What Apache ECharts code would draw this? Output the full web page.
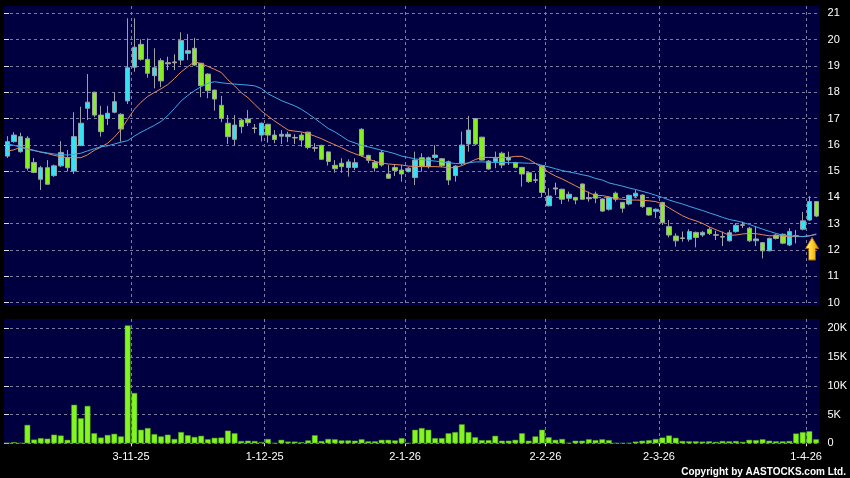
<!DOCTYPE html>
<html>
<head>
<meta charset="utf-8">
<script src="https://cdn.jsdelivr.net/npm/echarts@6/dist/echarts.min.js"></script>
<style>
html,body{margin:0;padding:0;background:#000;}
#chart{width:850px;height:478px;}
</style>
</head>
<body>
<div id="chart"></div>
<script>
// ---- trading days (HK), Oct 3 2025 .. Apr 2 2026 ----
const dates = [
'3-10-25','6-10-25','8-10-25','9-10-25','10-10-25','13-10-25','14-10-25','15-10-25','16-10-25','17-10-25',
'20-10-25','21-10-25','22-10-25','23-10-25','24-10-25','27-10-25','28-10-25','30-10-25','31-10-25',
'3-11-25','4-11-25','5-11-25','6-11-25','7-11-25','10-11-25','11-11-25','12-11-25','13-11-25','14-11-25',
'17-11-25','18-11-25','19-11-25','20-11-25','21-11-25','24-11-25','25-11-25','26-11-25','27-11-25','28-11-25',
'1-12-25','2-12-25','3-12-25','4-12-25','5-12-25','8-12-25','9-12-25','10-12-25','11-12-25','12-12-25',
'15-12-25','16-12-25','17-12-25','18-12-25','19-12-25','22-12-25','23-12-25','24-12-25','29-12-25','30-12-25','31-12-25',
'2-1-26','5-1-26','6-1-26','7-1-26','8-1-26','9-1-26','12-1-26','13-1-26','14-1-26','15-1-26','16-1-26',
'19-1-26','20-1-26','21-1-26','22-1-26','23-1-26','26-1-26','27-1-26','28-1-26','29-1-26','30-1-26',
'2-2-26','3-2-26','4-2-26','5-2-26','6-2-26','9-2-26','10-2-26','11-2-26','12-2-26','13-2-26',
'16-2-26','20-2-26','23-2-26','24-2-26','25-2-26','26-2-26','27-2-26',
'2-3-26','3-3-26','4-3-26','5-3-26','6-3-26','9-3-26','10-3-26','11-3-26','12-3-26','13-3-26',
'16-3-26','17-3-26','18-3-26','19-3-26','20-3-26','23-3-26','24-3-26','25-3-26','26-3-26','27-3-26','30-3-26','31-3-26',
'1-4-26','2-4-26'
];
const tickDates = ['3-11-25','1-12-25','2-1-26','2-2-26','2-3-26','1-4-26'];

const opens = [
15.57,16.12,15.74,16.25,15.33,14.69,15.13,14.83,15.20,15.51,
15.00,15.97,17.39,18.00,17.13,17.00,17.24,17.16,17.67,18.95,
19.82,19.25,18.63,19.20,19.08,19.12,19.22,19.48,19.67,19.10,
18.69,18.08,17.50,16.82,16.21,16.94,16.98,16.62,16.37,16.78,
16.37,16.33,16.31,16.26,16.37,16.48,15.87,15.98,15.73,15.22,
15.30,15.14,15.14,16.59,15.60,15.33,15.71,14.89,15.14,15.04,
14.98,14.76,15.51,15.17,15.52,15.47,15.36,14.83,15.30,16.03,
17.00,16.29,15.38,15.37,15.68,15.42,15.32,15.14,14.94,14.65,
15.20,13.68,14.32,14.31,13.97,14.00,14.51,13.95,14.13,13.94,
13.55,14.16,13.81,13.75,14.05,14.09,13.61,13.47,13.81,12.89,
12.53,12.44,12.41,12.67,12.57,12.79,12.56,12.49,12.35,12.70,
12.94,12.83,12.35,12.28,11.97,12.57,12.60,12.19,12.52,12.79,
13.14,13.84];
const closes = [
16.12,16.37,16.31,15.11,14.95,15.13,14.50,15.20,15.71,15.13,
16.31,16.82,17.62,17.13,16.50,17.20,17.64,16.60,18.93,19.71,
19.25,18.72,18.93,18.43,19.12,19.15,19.97,19.58,19.03,18.25,
18.06,17.74,17.00,16.31,16.75,16.69,16.84,16.64,16.82,16.37,
16.20,16.40,16.40,16.28,16.18,15.90,15.89,15.45,15.37,15.09,
15.17,15.35,15.32,15.60,15.41,15.12,15.23,14.73,15.02,14.89,
15.11,15.42,15.19,15.51,15.61,15.21,14.66,15.19,15.99,16.56,
16.03,15.42,15.08,15.49,15.23,15.52,15.14,14.89,14.60,14.67,
14.19,14.05,14.36,13.93,14.12,13.90,13.93,13.99,13.97,13.48,
14.00,13.93,13.59,14.08,14.16,13.65,13.33,13.55,13.04,12.57,
12.35,12.46,12.70,12.48,12.67,12.63,12.58,12.51,12.66,12.94,
12.96,12.35,12.42,11.97,12.44,12.44,12.26,12.70,12.54,13.11,
13.84,13.29];
const lows = [
15.50,16.08,15.70,15.02,14.92,14.28,14.48,14.78,15.15,14.98,
14.89,15.95,16.94,17.05,16.31,16.75,17.20,16.12,17.55,18.78,
19.20,18.55,18.15,18.19,18.84,18.84,19.03,19.22,19.00,17.81,
17.77,17.30,16.86,16.03,15.97,16.44,16.71,16.44,16.12,16.08,
16.06,16.03,16.10,16.03,15.93,15.83,15.74,15.42,15.21,14.94,
14.94,14.79,15.04,15.55,15.30,14.98,15.17,14.70,14.81,14.60,
14.95,14.47,14.98,15.10,15.45,15.15,14.47,14.60,15.23,15.74,
15.98,15.40,15.05,15.11,15.11,15.23,15.10,14.41,14.55,14.55,
14.00,13.66,14.09,13.75,13.84,13.74,13.90,13.84,13.78,13.45,
13.50,13.84,13.42,13.70,13.97,13.60,13.30,13.22,12.95,12.48,
12.13,12.32,12.32,12.10,12.50,12.57,12.38,12.15,12.32,12.66,
12.83,12.30,12.15,11.68,11.95,12.40,12.22,12.15,12.25,12.75,
13.10,13.25];
const highs = [
16.33,16.48,16.46,16.33,15.50,15.20,15.42,15.25,16.14,15.80,
17.24,17.45,18.69,18.02,17.48,17.48,18.00,17.20,20.81,20.81,
20.01,20.05,19.67,19.29,19.35,19.44,20.28,20.21,20.07,19.12,
18.72,18.10,17.86,17.13,17.13,17.00,17.32,16.79,16.85,16.80,
16.56,16.56,16.50,16.40,16.46,16.50,16.06,16.00,15.75,15.42,
15.49,15.45,15.49,16.63,15.62,15.42,15.80,15.23,15.23,15.23,
15.15,15.74,15.68,15.55,15.99,15.50,15.40,15.22,16.50,17.10,
17.02,16.30,15.42,15.74,15.74,15.74,15.35,15.16,14.96,14.92,
15.23,14.35,14.56,14.33,14.22,14.02,14.53,14.22,14.22,13.96,
14.03,14.22,13.83,14.10,14.28,14.12,13.63,13.58,13.83,13.14,
12.63,12.70,12.79,12.70,12.72,12.86,12.73,12.70,12.76,13.02,
13.08,12.88,12.89,12.30,12.47,12.60,12.63,12.83,12.76,13.45,
14.05,13.86];

// volume in thousands of shares
const volumesK = [
0.1,0.2,0.05,3.2,0.65,0.9,0.8,1.5,1.35,0.6,
6.7,4.35,6.5,1.75,1.0,1.45,1.65,1.2,20.5,8.75,
2.35,2.65,1.6,1.2,1.5,0.75,1.95,1.4,1.1,1.3,
0.7,0.95,1.0,2.2,1.75,0.4,0.45,0.4,0.2,0.75,
0.05,0.6,0.3,0.3,0.2,0.5,1.4,0.4,0.75,0.7,
0.5,0.5,0.45,0.7,0.35,0.35,0.6,0.6,0.5,0.9,
0.05,2.35,2.65,2.35,0.9,0.9,1.75,1.95,3.3,1.95,
1.05,0.55,0.55,1.3,0.45,0.45,0.6,1.75,0.45,1.2,
2.35,1.05,0.6,0.75,0.1,0.45,0.45,0.7,0.55,0.7,
0.55,0.05,0.05,0.05,0.3,0.45,0.55,0.75,1.0,1.35,
0.95,0.4,0.35,0.35,0.3,0.35,0.25,0.4,0.35,0.4,
0.25,0.6,0.55,0.7,0.45,0.35,0.35,0.4,1.7,1.95,
2.1,0.7];

// moving-average lines as drawn on the chart
const maShort = [
15.76,15.81,15.92,15.86,15.79,15.72,15.67,15.60,15.55,15.51,
15.51,15.51,15.62,15.79,15.91,16.06,16.29,16.58,16.97,17.35,
17.62,17.84,17.99,18.13,18.29,18.52,18.77,18.97,19.16,19.08,
18.98,18.87,18.75,18.47,18.24,17.98,17.79,17.54,17.29,17.09,
16.90,16.73,16.56,16.52,16.49,16.42,16.33,16.23,16.11,16.00,
15.89,15.76,15.66,15.57,15.46,15.37,15.31,15.27,15.25,15.23,
15.19,15.18,15.17,15.17,15.17,15.16,15.13,15.13,15.21,15.32,
15.44,15.52,15.52,15.52,15.52,15.52,15.56,15.56,15.45,15.29,
15.13,14.95,14.81,14.70,14.57,14.44,14.31,14.18,14.07,14.07,
14.02,13.95,13.93,13.90,13.90,13.89,13.87,13.84,13.75,13.60,
13.45,13.30,13.19,13.11,13.01,12.88,12.77,12.67,12.56,12.57,
12.61,12.63,12.62,12.58,12.54,12.54,12.53,12.51,12.51,12.51,
12.54,12.61];
const maLong = [
16.03,15.98,15.91,15.83,15.78,15.73,15.69,15.65,15.63,15.61,
15.64,15.68,15.77,15.85,15.93,15.96,16.03,16.10,16.16,16.33,
16.48,16.61,16.74,16.89,17.11,17.38,17.67,17.88,18.06,18.21,
18.34,18.40,18.36,18.33,18.31,18.29,18.27,18.24,18.14,17.94,
17.81,17.68,17.58,17.48,17.35,17.18,17.00,16.81,16.62,16.49,
16.33,16.16,16.07,15.98,15.92,15.86,15.79,15.73,15.66,15.57,
15.52,15.46,15.44,15.41,15.38,15.35,15.32,15.29,15.28,15.31,
15.35,15.35,15.34,15.33,15.33,15.32,15.32,15.31,15.30,15.29,
15.22,15.16,15.09,15.02,14.97,14.92,14.86,14.81,14.72,14.66,
14.55,14.49,14.43,14.36,14.30,14.23,14.16,14.08,14.00,13.90,
13.82,13.75,13.66,13.58,13.50,13.41,13.33,13.24,13.16,13.11,
13.05,12.97,12.88,12.79,12.71,12.63,12.56,12.54,12.53,12.51,
12.54,12.59];

const priceTicks = [10,11,12,13,14,15,16,17,18,19,20,21];
const volumeTicks = [0,5,10,15,20];

// ---- build chart ----
const tickIdx = tickDates.map(d => dates.indexOf(d));
const candleData = dates.map((d, i) => {
  const item = { value: [opens[i], closes[i], lows[i], highs[i]] };
  if (Math.abs(closes[i] - opens[i]) < 0.05) {
    item.itemStyle = { color: '#9a9a9a', color0: '#9a9a9a', borderColor: '#a8a8a8', borderColor0: '#a8a8a8' };
  }
  return item;
});

const FONT = 'Liberation Sans, Arial, sans-serif';
const gridLine = { show: true, lineStyle: { color: '#7c7ca0', width: 1, type: [3, 3] } };
const PANEL = '#000040';

const chart = echarts.init(document.getElementById('chart'), null, { renderer: 'canvas' });
chart.setOption({
  animation: false,
  backgroundColor: '#000000',
  textStyle: { fontFamily: FONT },
  title: {
    text: 'Copyright by AASTOCKS.com Ltd.',
    right: 4, bottom: 1, padding: 0,
    textStyle: { color: '#ffffff', fontSize: 10, fontWeight: 'bold', fontFamily: FONT }
  },
  grid: [
    { left: 4, right: 30.4, top: 6, height: 300, show: true, backgroundColor: PANEL, borderWidth: 0 },
    { left: 4, right: 30.4, top: 319, height: 124.3, show: true, backgroundColor: PANEL, borderWidth: 0 }
  ],
  xAxis: [
    { type: 'category', gridIndex: 0, position: 'top', data: dates, boundaryGap: true,
      axisLine: { show: false }, axisTick: { show: false }, axisLabel: { show: false }, splitLine: { show: false } },
    { type: 'value', gridIndex: 0, position: 'bottom', min: 0, max: dates.length,
      axisLine: { show: false },
      axisTick: { show: false, customValues: tickIdx },
      axisLabel: { show: false, customValues: tickIdx },
      splitLine: gridLine },
    { type: 'category', gridIndex: 1, position: 'top', data: dates, boundaryGap: true,
      axisLine: { show: false }, axisTick: { show: false }, axisLabel: { show: false }, splitLine: { show: false } },
    { type: 'value', gridIndex: 1, position: 'bottom', min: 0, max: dates.length,
      axisLine: { show: false },
      axisTick: { show: true, customValues: tickIdx, length: 3, lineStyle: { color: '#e0e0e0' } },
      axisLabel: { show: true, customValues: tickIdx, formatter: v => dates[Math.round(v)],
                   color: '#ffffff', fontSize: 11, margin: 8, fontFamily: FONT },
      splitLine: gridLine }
  ],
  yAxis: [
    { type: 'value', gridIndex: 0, position: 'right', min: 9.871, max: 21.278,
      axisLine: { show: false },
      axisTick: { show: true, customValues: priceTicks, length: 5, lineStyle: { color: '#e0e0e0' } },
      axisLabel: { customValues: priceTicks, color: '#ffffff', fontSize: 11, margin: 8, fontFamily: FONT },
      splitLine: gridLine },
    { type: 'value', gridIndex: 1, position: 'right', min: 0, max: 21.62,
      axisLine: { show: false },
      axisTick: { show: true, customValues: volumeTicks, length: 5, lineStyle: { color: '#e0e0e0' } },
      axisLabel: { customValues: volumeTicks, formatter: v => (v === 0 ? '0' : v + 'K'),
                   color: '#ffffff', fontSize: 11, margin: 8, fontFamily: FONT },
      splitLine: gridLine }
  ],
  series: [
    {
      type: 'candlestick', name: 'Price', xAxisIndex: 0, yAxisIndex: 0,
      data: candleData, barWidth: '74%', z: 2,
      itemStyle: { color: '#36e2f2', color0: '#84f01e', borderColor: '#98a2a6', borderColor0: '#98a2a6', borderWidth: 1 },
      markPoint: {
        silent: true,
        data: [{
          coord: [dates[dates.length - 2], 12.05],
          symbol: 'path://M6.5,0 L13,11 L9.8,11 L9.8,22.5 L3.2,22.5 L3.2,11 L0,11 Z',
          symbolSize: [13, 22.5], symbolOffset: [2.5, 0],
          label: { show: false },
          itemStyle: {
            color: { type: 'linear', x: 0, y: 0, x2: 1, y2: 0,
                     colorStops: [{ offset: 0, color: '#fff2a0' }, { offset: 0.45, color: '#ffd530' }, { offset: 1, color: '#e09000' }] },
            borderColor: '#a86a00', borderWidth: 0.8
          }
        }]
      }
    },
    {
      type: 'line', name: 'MA short', xAxisIndex: 0, yAxisIndex: 0, data: maShort,
      showSymbol: false, z: 3, lineStyle: { color: '#e8895a', width: 1 }, itemStyle: { color: '#e8895a' }
    },
    {
      type: 'line', name: 'MA long', xAxisIndex: 0, yAxisIndex: 0, data: maLong,
      showSymbol: false, z: 3, lineStyle: { color: '#3eaae8', width: 1 }, itemStyle: { color: '#3eaae8' }
    },
    {
      type: 'bar', name: 'Volume', xAxisIndex: 2, yAxisIndex: 1, data: volumesK,
      barCategoryGap: '14%',
      itemStyle: { color: '#84f520', borderColor: '#4c9c16', borderWidth: 0.5 }
    }
  ]
});
</script>
</body>
</html>
